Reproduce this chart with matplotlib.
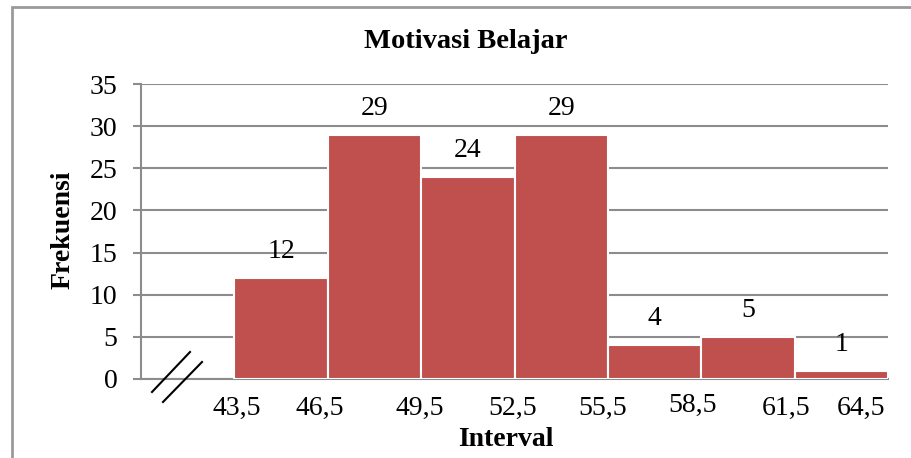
import matplotlib
matplotlib.use('Agg')
import matplotlib.pyplot as plt
from matplotlib.lines import Line2D
from matplotlib.patches import Rectangle

plt.rcParams['font.family'] = ['Liberation Serif', 'DejaVu Serif']

# data
frekuensi = [0, 12, 29, 24, 29, 4, 5, 1]   # first slot is the axis break
batas = ['43,5', '46,5', '49,5', '52,5', '55,5', '58,5', '61,5', '64,5']
yticks = [0, 5, 10, 15, 20, 25, 30, 35]

bar_color = '#C0504D'
grid_color = '#8c8c8c'

fig = plt.figure(figsize=(9.11, 4.58), dpi=100)
W, H = 911, 458
ax = fig.add_axes([141 / W, 1 - 379 / H, 747 / W, 295 / H])

pos = [i + 0.5 for i in range(len(frekuensi))]
bars = ax.bar(pos[1:], frekuensi[1:], width=1.0, color=bar_color,
              edgecolor='white', linewidth=1.5, zorder=3)

for b, v in zip(bars, frekuensi[1:]):
    ax.annotate(str(v), (b.get_x() + b.get_width() / 2, v),
                xytext=(0, 19), textcoords='offset points',
                ha='center', va='center', fontsize=20, zorder=4)

ax.set_xlim(0, 8)
ax.set_ylim(0, 35)
ax.set_yticks(yticks)
ax.set_xticks([])
ax.yaxis.grid(True, color=grid_color, linewidth=1.5)
ax.set_axisbelow(True)
ax.tick_params(axis='y', length=6, width=1.5, color=grid_color, pad=11,
               labelsize=20)
for s in ['top', 'right']:
    ax.spines[s].set_visible(False)
for s in ['left', 'bottom']:
    ax.spines[s].set_color(grid_color)
    ax.spines[s].set_linewidth(1.5)

# interval boundary labels (hand nudged like the original text boxes)
dx = [2, -6, -1, -1, -4, -6, -6, -2]
dy = [-21, -21, -21, -21, -21, -19, -21, -21]
for i, lab in enumerate(batas):
    ha = 'right' if i == len(batas) - 1 else 'center'
    ax.annotate(lab, (i + 1, 0), xytext=(dx[i], dy[i]),
                textcoords='offset points', ha=ha, va='center',
                fontsize=20, annotation_clip=False)

fig.text(466 / W, 1 - 42 / H, 'Motivasi Belajar', ha='center', va='center',
         fontsize=20.5, fontweight='bold')
fig.text(63 / W, 1 - 230 / H, 'Frekuensi', ha='center', va='center',
         rotation=90, fontsize=20, fontweight='bold')
fig.text(506 / W, 1 - 440 / H, 'Interval', ha='center', va='center',
         fontsize=20, fontweight='bold')

# axis break marks
for (x0, y0, x1, y1) in [(152, 392, 190, 352), (163, 402, 202, 362)]:
    fig.add_artist(Line2D([x0 / W, x1 / W], [1 - y0 / H, 1 - y1 / H],
                          color='black', linewidth=1.5))

# chart area border
fig.add_artist(Rectangle((12 / W, -0.1), 1.2, 1.1 - 7 / H, fill=False,
                         edgecolor='#9a9a9a', linewidth=2))

fig.savefig('out.png', dpi=100)
